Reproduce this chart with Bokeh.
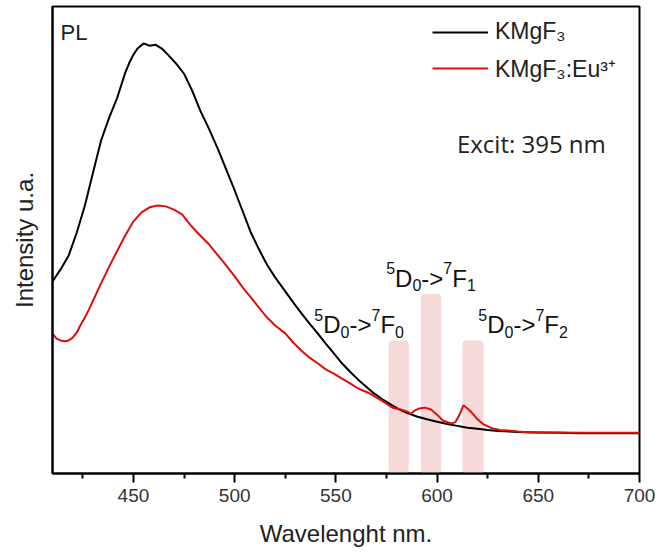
from bokeh.plotting import figure
from bokeh.models import Range1d, FixedTicker, Legend, LegendItem, Label, BoxAnnotation
from bokeh.embed import file_html
from bokeh.resources import INLINE

# ---- data ----
wl_black = [410, 414, 418, 422, 426, 430, 434, 438, 442, 446, 448, 450, 452, 455, 458,
            461, 464, 467, 471, 475, 479, 483, 487, 492, 496, 500, 504, 508, 512, 516,
            520, 525, 529, 533, 537, 541, 545, 549, 553, 557, 561, 565, 569, 573, 577,
            581, 585, 590, 595, 600, 605, 610, 615, 620, 625, 630, 640, 650, 660, 670,
            680, 690, 700]
int_black = [411, 437, 467, 516, 574, 644, 713, 762, 805, 859, 880, 897, 910, 921, 916,
             918, 910, 897, 878, 856, 820, 777, 741, 692, 649, 606, 561, 516, 480, 447,
             420, 390, 366, 343, 321, 300, 278, 257, 236, 218, 201, 186, 171, 159, 148,
             138, 130, 122, 116, 111, 106, 102, 98, 96, 93, 91, 89, 88, 87, 86,
             86, 86, 86]

wl_red = [410, 412, 414, 416, 418, 420, 422, 424, 426, 428, 430, 434, 438, 442, 446,
          450, 454, 458, 462, 466, 470, 474, 478, 482, 487, 491, 495, 500, 504, 508,
          512, 516, 520, 525, 529, 533, 537, 541, 545, 549, 553, 557, 561, 566, 570,
          574, 578, 582, 585, 587, 589, 591, 594, 597, 600, 603, 607, 609, 611, 613,
          615, 617, 620, 623, 627, 631, 635, 640, 646, 660, 671, 680, 690, 700]
int_red = [300, 289, 285, 283, 285, 291, 302, 319, 334, 351, 370, 407, 443, 477, 510,
           540, 559, 570, 574, 572, 565, 555, 533, 514, 492, 471, 450, 422, 398, 377,
           355, 334, 317, 300, 280, 263, 248, 236, 223, 214, 203, 193, 182, 173, 163,
           152, 141, 137, 133, 128, 135, 139, 141, 137, 126, 113, 107, 110, 125, 146,
           139, 131, 116, 105, 97, 93, 92, 90, 88, 88, 87, 87, 87, 87]

series_names = ["KMgF₃", "KMgF₃:Eu³⁺"]

# band labels as (text, role) pieces: role n = normal, sup = superscript, sub = subscript
band_labels = [
    [("5", "sup"), ("D", "n"), ("0", "sub"), ("->", "n"), ("7", "sup"), ("F", "n"), ("0", "sub")],
    [("5", "sup"), ("D", "n"), ("0", "sub"), ("->", "n"), ("7", "sup"), ("F", "n"), ("1", "sub")],
    [("5", "sup"), ("D", "n"), ("0", "sub"), ("->", "n"), ("7", "sup"), ("F", "n"), ("2", "sub")],
]
band_left = [576, 592, 612.5]
band_right = [586, 602, 623]
band_top = [285, 385, 285]

x_ticks = [450, 500, 550, 600, 650, 700]
x_minor = [425, 475, 525, 575, 625, 675]

# ---- figure ----
p = figure(width=670, height=552, x_range=Range1d(410, 700), y_range=Range1d(0, 1000),
           output_backend="svg", toolbar_location=None,
           min_border_left=52, min_border_right=31, min_border_top=6, min_border_bottom=79)
p.background_fill_color = "white"
p.border_fill_color = "white"
p.xgrid.visible = False
p.ygrid.visible = False
p.outline_line_color = "black"
p.outline_line_width = 2
p.outline_line_alpha = 1

# bands
for l, r, t in zip(band_left, band_right, band_top):
    p.add_layout(BoxAnnotation(left=l, right=r, bottom=0, top=t,
                               fill_color="#f4cfcf", fill_alpha=0.8, line_alpha=0,
                               border_radius=4, level="underlay"))

rb = p.line(wl_black, int_black, line_color="black", line_width=2)
rr = p.line(wl_red, int_red, line_color="#e00d0d", line_width=2)

# x axis
xa = p.xaxis[0]
xa.ticker = FixedTicker(ticks=x_ticks, minor_ticks=x_minor)
xa.axis_line_width = 2
xa.axis_line_color = "black"
xa.major_tick_line_width = 2
xa.major_tick_in = 0
xa.major_tick_out = 9
xa.minor_tick_line_width = 2
xa.minor_tick_in = 0
xa.minor_tick_out = 5
xa.major_label_text_font = "Liberation Sans"
xa.major_label_text_font_size = "19px"
xa.major_label_text_color = "#333333"
xa.major_label_standoff = 6
xa.axis_label = "Wavelenght nm."
xa.axis_label_text_font = "Liberation Sans"
xa.axis_label_text_font_size = "24px"
xa.axis_label_text_font_style = "normal"
xa.axis_label_text_color = "#222222"
xa.axis_label_standoff = 15

# y axis
ya = p.yaxis[0]
ya.ticker = FixedTicker(ticks=[])
ya.axis_line_width = 2
ya.axis_line_color = "black"
ya.major_tick_out = 0
ya.minor_tick_out = 0
ya.axis_label = "Intensity u.a."
ya.axis_label_text_font = "Liberation Sans"
ya.axis_label_text_font_size = "24px"
ya.axis_label_text_font_style = "normal"
ya.axis_label_text_color = "#222222"
ya.axis_label_standoff = 15

# legend
legend = Legend(items=[LegendItem(label=series_names[0], renderers=[rb]),
                       LegendItem(label=series_names[1], renderers=[rr])],
                location=(380, 389), glyph_width=56, glyph_height=20, label_standoff=7,
                spacing=7, padding=0, margin=0, border_line_alpha=0,
                background_fill_alpha=0, label_text_font="Liberation Sans",
                label_text_font_size="23px", label_text_color="#222222", label_height=26)
p.add_layout(legend)

# texts
p.add_layout(Label(x=414, y=944, text="PL", text_font="Liberation Sans",
                   text_font_size="22px", text_color="#222222", text_baseline="alphabetic"))
p.add_layout(Label(x=609.8, y=707, text="Excit: 395 nm", text_font="Open Sans",
                   text_font_size="24px", text_color="#222222", text_baseline="alphabetic"))

# composed band labels (Arial-metric widths)
EM = {"0": 0.556, "1": 0.556, "2": 0.556, "5": 0.556, "7": 0.556,
      "D": 0.722, "F": 0.611, "-": 0.333, ">": 0.584}
SIZE = {"n": 24, "sup": 16, "sub": 16}
RAISE = {"n": 0, "sup": 10, "sub": -7}
label_x = [561.5, 597, 642.5]
label_y = [319, 418, 319]
for pieces, lx, ly in zip(band_labels, label_x, label_y):
    widths = [sum(EM[c] for c in t) * SIZE[r] for t, r in pieces]
    off = -sum(widths) / 2.0
    for (t, r), w in zip(pieces, widths):
        p.add_layout(Label(x=lx, y=ly, x_offset=off, y_offset=RAISE[r], text=t,
                           text_font="Liberation Sans", text_font_size="%dpx" % SIZE[r],
                           text_color="#111111", text_align="left",
                           text_baseline="alphabetic"))
        off += w

open("out.html", "w").write(file_html(p, INLINE))
